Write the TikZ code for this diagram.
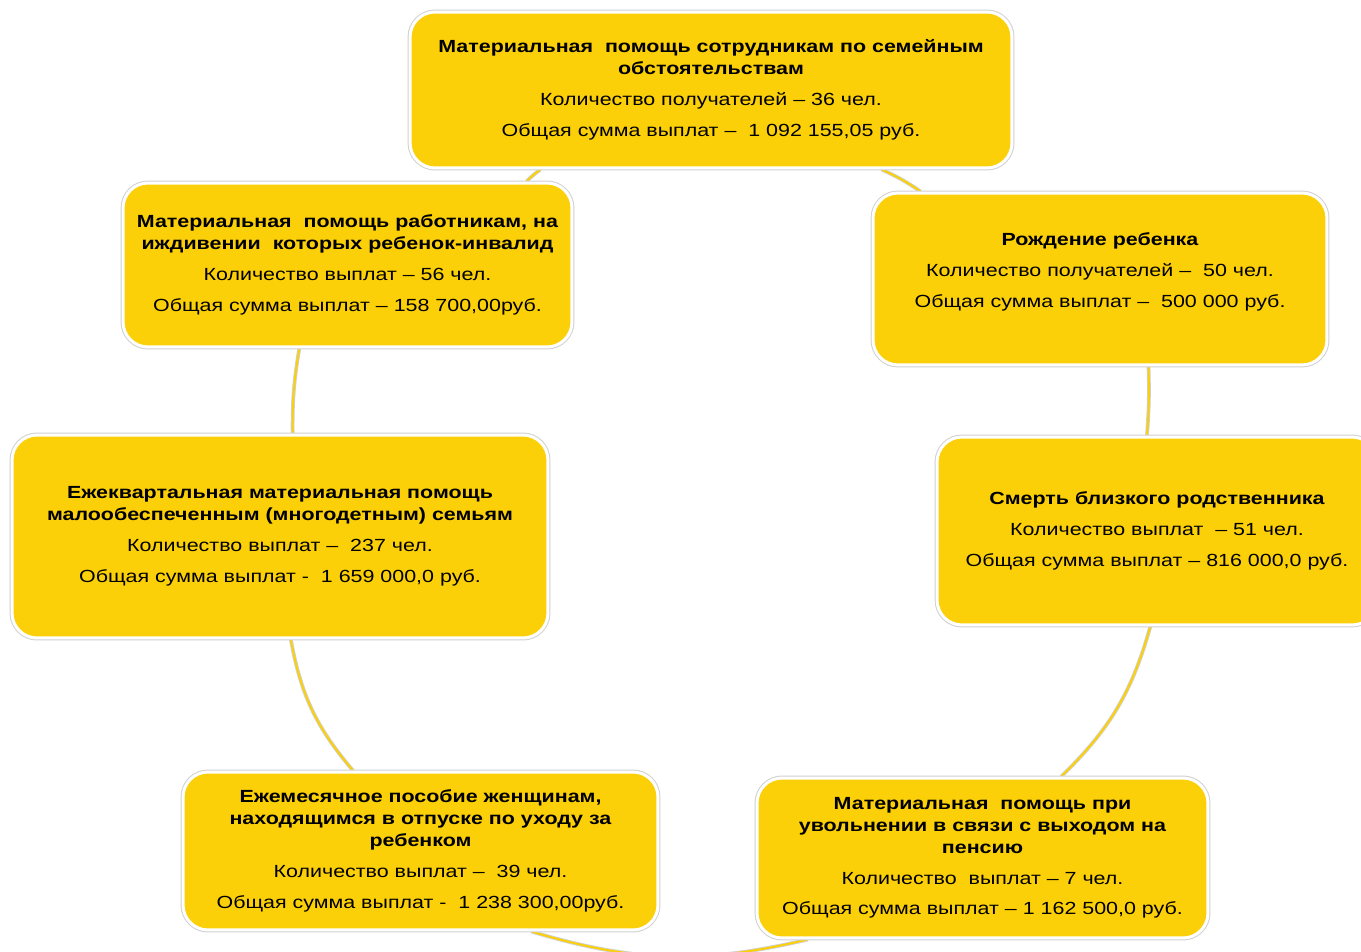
\documentclass[tikz,border=0pt]{standalone}
\usepackage{fontspec}
\setmainfont{Liberation Sans}[FakeStretch=1.22]
\usepackage{xcolor}
\usepackage{tikz}
\usetikzlibrary{backgrounds}
\definecolor{gold}{RGB}{252,208,8}
\definecolor{rim}{RGB}{208,208,208}
\tikzstyle{block} = [rectangle, rounded corners=0.5cm, fill=gold, draw=white, line width=0.6mm, preaction={draw=rim, line width=1mm}, align=center, text centered, font=\fontsize{10}{12.5}\selectfont]
\tikzstyle{link} = [draw=gold, line width=0.4mm, preaction={draw=rim, line width=0.75mm}]

\begin{document}
\begin{tikzpicture}[x=0.02cm, y=-0.02cm]
   \useasboundingbox (0,0) rectangle (1361,952);
   \node (fam) [block, minimum width=12.04cm, minimum height=3.12cm] at (711,90) {\textbf{Материальная\ \ помощь сотрудникам по семейным}\\\textbf{обстоятельствам}\\[5pt]Количество получателей – 36 чел.\\[5pt]Общая сумма выплат –\ \ 1 092 155,05 руб.};
   \node (inv) [block, minimum width=8.98cm, minimum height=3.28cm] at (347.5,265) {\textbf{Материальная\ \ помощь работникам, на}\\\textbf{иждивении\ \ которых ребенок-инвалид}\\[5pt]Количество выплат – 56 чел.\\[5pt]Общая сумма выплат – 158 700,00руб.};
   \node (birth) [block, minimum width=9.08cm, minimum height=3.44cm] at (1100,279) {\textbf{Рождение ребенка}\\[5pt]Количество получателей –\ \ 50 чел.\\[5pt]Общая сумма выплат –\ \ 500 000 руб.\\[-2.5pt]\mbox{}};
   \node (poor) [block, minimum width=10.72cm, minimum height=4.06cm] at (280,536.5) {\textbf{Ежеквартальная материальная помощь}\\\textbf{малообеспеченным (многодетным) семьям}\\[5pt]Количество выплат –\ \ 237 чел.\\[5pt]Общая сумма выплат -\ \ 1 659 000,0 руб.};
   \node (death) [block, minimum width=8.8cm, minimum height=3.76cm] at (1157,531) {\textbf{Смерть близкого родственника}\\[5pt]Количество выплат\ \ – 51 чел.\\[5pt]Общая сумма выплат – 816 000,0 руб.};
   \node (leave) [block, minimum width=9.5cm, minimum height=3.16cm] at (420.5,851) {\textbf{Ежемесячное пособие женщинам,}\\\textbf{находящимся в отпуске по уходу за}\\\textbf{ребенком}\\[5pt]Количество выплат –\ \ 39 чел.\\[5pt]Общая сумма выплат -\ \ 1 238 300,00руб.};
   \node (pens) [block, minimum width=9.02cm, minimum height=3.2cm] at (982.5,858) {\textbf{Материальная\ \ помощь при}\\\textbf{увольнении в связи с выходом на}\\\textbf{пенсию}\\[5pt]Количество\ \ выплат – 7 чел.\\[5pt]Общая сумма выплат – 1 162 500,0 руб.};
   \begin{pgfonlayer}{background}
   \draw [link] (fam.205) to[bend right=5] (inv.25);
   \draw [link] (inv.240) to[bend right=5] (poor.83);
   \draw [link] (poor.276) to[bend right=15] (leave.130);
   \draw [link] (leave.324) to[bend right=15] (pens.205);
   \draw [link] (pens.46) to[bend right=15] (death.266);
   \draw [link] (death.96) to[bend right=3] (birth.299);
   \draw [link] (birth.154) to[bend right=5] (fam.335);
   \end{pgfonlayer}
\end{tikzpicture}
\end{document}
